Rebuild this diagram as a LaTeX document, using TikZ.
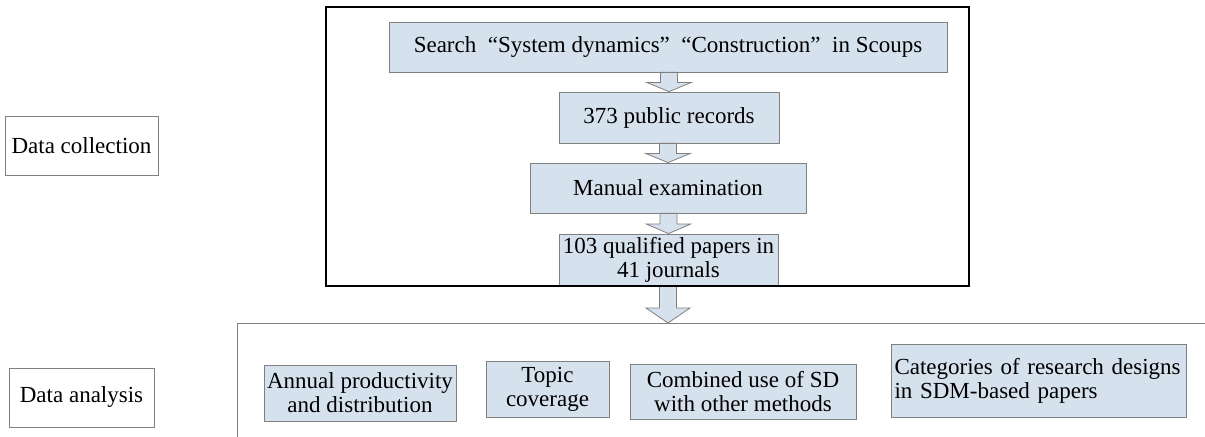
\documentclass[tikz,border=0pt]{standalone}
\usepackage{fontspec}
\setmainfont{Liberation Serif}
\newfontfamily\boxfont{Liberation Serif}
\usepackage{tikz}
\usetikzlibrary{calc}
\definecolor{boxfill}{RGB}{214,225,238}
\definecolor{boxline}{RGB}{128,128,128}
\tikzstyle{flowbox}=[rectangle,draw=boxline,fill=boxfill,align=center,inner sep=1pt]
\tikzstyle{stagebox}=[rectangle,draw=boxline,align=center,minimum width=72.5pt,minimum height=29.5pt]
\tikzstyle{flowarr}=[draw=boxline,fill=boxfill,line width=0.4pt]
% hollow block arrow: from, to, head length
\newcommand{\flowarrow}[3]{%
  \draw[flowarr] let \p1=#1, \p2=#2 in
    (\x2-4.25pt,\y1) -- (\x2+4.25pt,\y1) -- (\x2+4.25pt,\y2+#3)
    -- (\x2+11pt,\y2+#3) -- (\x2,\y2) -- (\x2-11pt,\y2+#3)
    -- (\x2-4.25pt,\y2+#3) -- cycle;}

\begin{document}
\begin{tikzpicture}[x=0.5pt,y=-0.5pt,font=\boxfont\fontsize{11.5}{12}\selectfont]
        \useasboundingbox (0,0) rectangle (1205,437);
        \node[stagebox] (collection) at (81.5,145.5) {Data collection};
        \node[stagebox] (analysis) at (81.5,397.5) {Data analysis};
        \node[flowbox,minimum width=279pt,minimum height=25pt] (search) at (668,47) {Search\enspace“System dynamics”\enspace“Construction”\enspace in Scoups};
        \node[flowbox,minimum width=110pt,minimum height=25.5pt] (records) at (669,117.5) {373 public records};
        \node[flowbox,minimum width=138pt,minimum height=25pt] (manual) at (668,188) {Manual examination};
        \node[flowbox,minimum width=109.5pt,minimum height=26pt] (papers) at (668.5,260) {103 qualified papers in\\41 journals};
        \coordinate (analysis top) at (668,323);
        \node[flowbox,minimum width=96pt,minimum height=28pt] (annual) at (360,393) {Annual productivity\\and distribution};
        \node[flowbox,minimum width=61.5pt,minimum height=28pt] (topic) at (547.5,389) {Topic\\coverage};
        \node[flowbox,minimum width=113pt,minimum height=27.5pt] (combined) at (743,391.5) {Combined use of SD\\with other methods};
        \node[flowbox,minimum width=147.5pt,minimum height=36.5pt,text width=144pt,align=left] (designs) at (1038.5,380.5) {Categories of research designs\\in SDM-based papers};
        \flowarrow{(search.south)}{(records.north)}{4.5pt}
        \flowarrow{(records.south)}{(manual.north)}{4.5pt}
        \flowarrow{(manual.south)}{(papers.north)}{4.75pt}
        \flowarrow{(papers.south)}{(analysis top)}{7.5pt}
        \draw[line width=0.8pt] (326,7) rectangle (969,286);
        \draw[boxline] (1205,323) -- (237,323) -- (237,437);
\end{tikzpicture}
\end{document}
